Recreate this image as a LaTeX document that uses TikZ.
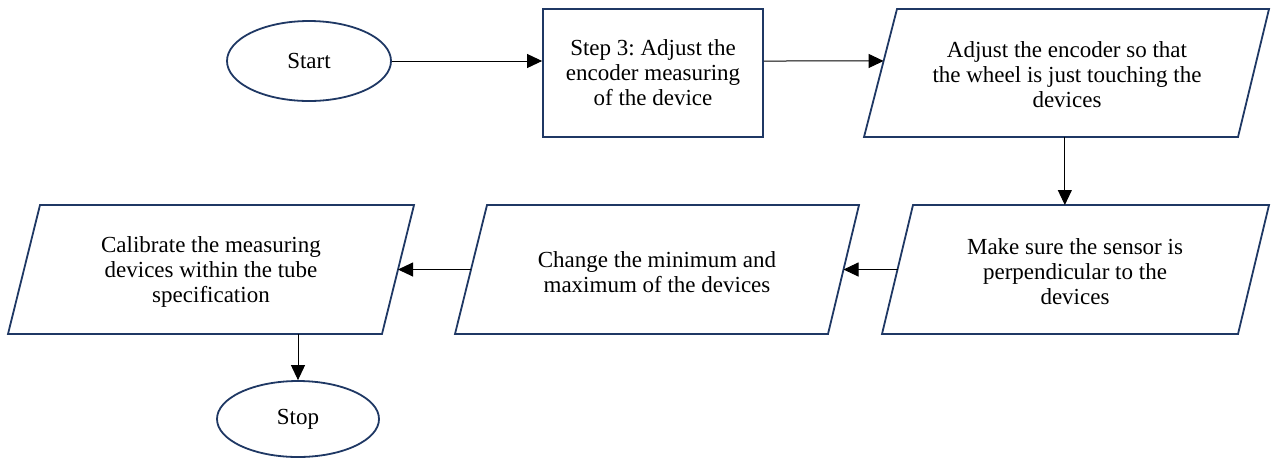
\documentclass[tikz,border=0pt]{standalone}
\usepackage{fontspec}
\setmainfont{Liberation Serif}
\usetikzlibrary{shapes.geometric,arrows.meta,calc}
\definecolor{navy}{HTML}{1F3864}
\tikzset{
  term/.style={ellipse,draw=navy,line width=1.8pt,fill=white,inner sep=0pt},
  procbox/.style={rectangle,draw=navy,line width=1.8pt,align=center,inner sep=0pt},
  pborder/.style={draw=navy,line width=1.8pt,line join=miter},
  ptext/.style={align=center,inner sep=0pt},
  arr/.style={line width=1pt,-{Triangle[length=15pt,width=14pt]}},
  txt/.style={font=\fontsize{23}{25}\selectfont}
}
\frenchspacing
\begin{document}
\begin{tikzpicture}[x=1pt,y=-1pt]
\useasboundingbox (0,0) rectangle (1271,459);
% terminals and box
\node[term,txt,minimum width=164pt,minimum height=80pt] (start) at (309,61) {Start};
\node[procbox,txt,minimum width=220pt,minimum height=128pt] (step) at (653,73) {Step 3: Adjust the\\encoder measuring\\of the device};
\node[term,txt,minimum width=162pt,minimum height=76pt] (stop) at (298,419) {Stop};
% parallelogram 1
\coordinate (p1bl) at (864,137); \coordinate (p1br) at (1238,137);
\coordinate (p1tr) at (1269,9);  \coordinate (p1tl) at (897,9);
\draw[pborder] (p1bl) -- (p1br) -- (p1tr) -- (p1tl) -- cycle;
\node[ptext,txt] (p1) at (1067,75) {Adjust the encoder so that\\the wheel is just touching the\\devices};
% parallelogram 2
\coordinate (p2bl) at (882,334); \coordinate (p2br) at (1238,334);
\coordinate (p2tr) at (1269,205); \coordinate (p2tl) at (913,205);
\draw[pborder] (p2bl) -- (p2br) -- (p2tr) -- (p2tl) -- cycle;
\node[ptext,txt] (p2) at (1075,272) {Make sure the sensor is\\perpendicular to the\\devices};
% parallelogram 3
\coordinate (p3bl) at (455,334); \coordinate (p3br) at (828,334);
\coordinate (p3tr) at (859,205); \coordinate (p3tl) at (487,205);
\draw[pborder] (p3bl) -- (p3br) -- (p3tr) -- (p3tl) -- cycle;
\node[ptext,txt] (p3) at (657,272) {Change the minimum and\\maximum of the devices};
% parallelogram 4
\coordinate (p4bl) at (8,334); \coordinate (p4br) at (382,334);
\coordinate (p4tr) at (414,205); \coordinate (p4tl) at (40,205);
\draw[pborder] (p4bl) -- (p4br) -- (p4tr) -- (p4tl) -- cycle;
\node[ptext,txt] (p4) at (211,272) {Calibrate the measuring\\devices within the tube\\specification};
% connector end points on the borders
\coordinate (p1in) at ($(p1bl)!0.594!(p1tl)$);
\coordinate (p1out) at ($(p1bl)!0.537!(p1br)$);
\coordinate (p2in) at (p1out |- p2tl);
\coordinate (p2out) at ($(p2bl)!0.5!(p2tl)$);
\coordinate (p3in) at ($(p3br)!0.5!(p3tr)$);
\coordinate (p3out) at ($(p3bl)!0.5!(p3tl)$);
\coordinate (p4in) at ($(p4br)!0.5!(p4tr)$);
\coordinate (p4out) at (stop.north |- p4bl);
% connectors
\draw[arr] (start.east) -- (start.east -| step.west);
\draw[arr] (step.east |- start.east) -- (p1in);
\draw[arr] (p1out) -- (p2in);
\draw[arr] (p2out) -- (p3in);
\draw[arr] (p3out) -- (p4in);
\draw[arr] (p4out) -- (stop.north);
\end{tikzpicture}
\end{document}
